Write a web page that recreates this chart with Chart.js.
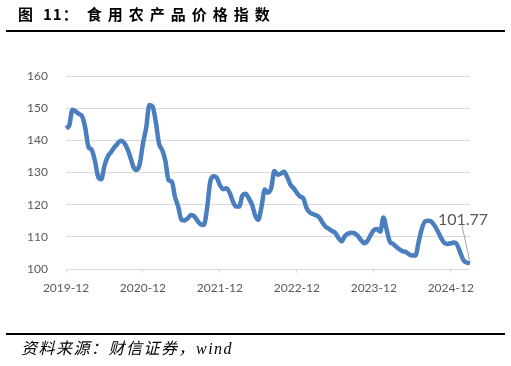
<!DOCTYPE html>
<html>
<head>
<meta charset="utf-8">
<script src="https://cdn.jsdelivr.net/npm/chart.js@4.4.1/dist/chart.umd.min.js"></script>
<style>
  html, body { margin: 0; padding: 0; background: #fff; }
  #page { position: relative; width: 511px; height: 366px; overflow: hidden; }
  #title { position: absolute; left: 18px; top: 3px; font-family: "Noto Sans CJK SC"; font-weight: bold; font-size: 15px; line-height: 22px; color: #000; letter-spacing: 6px; white-space: nowrap; }
  #title .num { margin-left: 4px; letter-spacing: 1px; margin-right: 8px; }
  #rule1 { position: absolute; left: 6px; right: 6px; top: 30px; height: 2px; background: #000; }
  #rule2 { position: absolute; left: 6px; right: 6px; top: 333px; height: 2px; background: #000; }
  #source { position: absolute; left: 21px; top: 338px; font-family: "Liberation Serif", "Noto Sans CJK SC"; font-style: italic; font-size: 16px; line-height: 22px; letter-spacing: 1.5px; color: #000; white-space: nowrap; }
  #chart { position: absolute; left: 0; top: 0; }
</style>
</head>
<body>
<div id="page">
  <canvas id="chart" width="511" height="366"></canvas>
  <div id="title">图<span class="num">11：</span>食用农产品价格指数</div>
  <div id="rule1"></div>
  <div id="rule2"></div>
  <div id="source">资料来源：财信证券，wind</div>
</div>
<script>
// semi-monthly readings, 2019-12 .. 2025-03
const startYear = 2019;
const startMonth = 12;
const priceIndex = [
  143.8, 144.6, 149.5, 149.0, 148.2, 147.5, 143.9, 138.0, 137.1, 133.7,
  128.8, 127.9, 132.1, 134.9, 136.3, 137.7, 138.9, 139.9, 139.4, 137.7,
  135.0, 131.8, 130.8, 132.6, 139.0, 143.9, 151.0, 150.5, 145.8, 139.0,
  137.0, 133.6, 127.6, 127.2, 122.4, 119.4, 115.3, 115.1, 115.8, 116.8,
  116.4, 115.0, 113.9, 113.7, 118.9, 127.2, 128.8, 128.4, 126.1, 124.8,
  125.1, 123.8, 121.2, 119.4, 119.4, 122.8, 123.4, 122.0, 120.0, 116.7,
  115.3, 119.5, 124.7, 123.7, 125.2, 130.5, 129.3, 129.7, 130.2, 128.5,
  126.2, 125.1, 123.7, 122.5, 122.0, 119.0, 117.6, 117.1, 116.7, 116.0,
  114.4, 113.1, 112.5, 111.8, 111.2, 109.6, 108.6, 110.3, 111.0, 111.3,
  111.1, 110.3, 109.0, 108.0, 108.7, 110.5, 112.1, 112.4, 111.6, 116.0,
  112.2, 108.5, 107.8, 106.9, 106.1, 105.5, 105.3, 104.6, 104.2, 104.2,
  108.5, 112.6, 114.8, 115.0, 114.7, 113.4, 111.6, 109.6, 108.1, 107.8,
  108.0, 108.2, 107.5, 105.0, 102.7, 102.0, 101.77
];
const yTicks = [100, 110, 120, 130, 140, 150, 160];

const dates = [];
for (let i = 0; i < priceIndex.length; i++) {
  const m0 = startMonth - 1 + Math.floor(i / 2);
  const y = startYear + Math.floor(m0 / 12);
  const m = (m0 % 12) + 1;
  dates.push(y + '-' + String(m).padStart(2, '0') + (i % 2 ? '-16' : '-01'));
}

// value label with leader line on the last point
const lastLabel = {
  id: 'lastLabel',
  afterDatasetsDraw(chart) {
    const pts = chart.getDatasetMeta(0).data;
    const p = pts[pts.length - 1];
    const ctx = chart.ctx;
    ctx.save();
    ctx.strokeStyle = '#a6a6a6';
    ctx.lineWidth = 1;
    ctx.beginPath();
    ctx.moveTo(p.x - 8, p.y - 38);
    ctx.lineTo(p.x - 0.5, p.y - 3);
    ctx.stroke();
    ctx.fillStyle = '#595959';
    ctx.font = '16px Lato';
    ctx.textAlign = 'center';
    ctx.textBaseline = 'middle';
    ctx.fillText(priceIndex[priceIndex.length - 1].toFixed(2), p.x - 7, p.y - 43);
    ctx.restore();
  }
};

new Chart(document.getElementById('chart'), {
  type: 'line',
  data: {
    labels: dates,
    datasets: [{
      data: priceIndex,
      borderColor: '#4a7ebf',
      borderWidth: 4.5,
      pointRadius: 0,
      tension: 0.4,
      cubicInterpolationMode: 'monotone',
      fill: false
    }]
  },
  options: {
    responsive: false,
    animation: false,
    layout: { padding: { top: 76, right: 41, left: 0, bottom: 0 } },
    plugins: { legend: { display: false }, tooltip: { enabled: false } },
    scales: {
      x: {
        type: 'category',
        offset: false,
        border: { display: false },
        grid: { drawOnChartArea: false, drawTicks: true, tickLength: 4, color: '#d9d9d9' },
        ticks: {
          autoSkip: false, maxRotation: 0, padding: 8,
          color: '#595959', font: { family: 'Lato', size: 12 },
          callback: function (v) {
            const l = this.getLabelForValue(v);
            return l.endsWith('-12-01') ? l.slice(0, 7) : null;
          }
        },
        afterFit: s => { s.height = 97; }
      },
      y: {
        min: 100, max: 160,
        border: { display: false },
        grid: { color: '#d9d9d9', drawTicks: false },
        afterBuildTicks: s => { s.ticks = yTicks.map(v => ({ value: v })); },
        ticks: { padding: 18, color: '#595959', font: { family: 'Lato', size: 12 } },
        afterFit: s => { s.width = 66; }
      }
    }
  },
  plugins: [lastLabel]
});
</script>
</body>
</html>
